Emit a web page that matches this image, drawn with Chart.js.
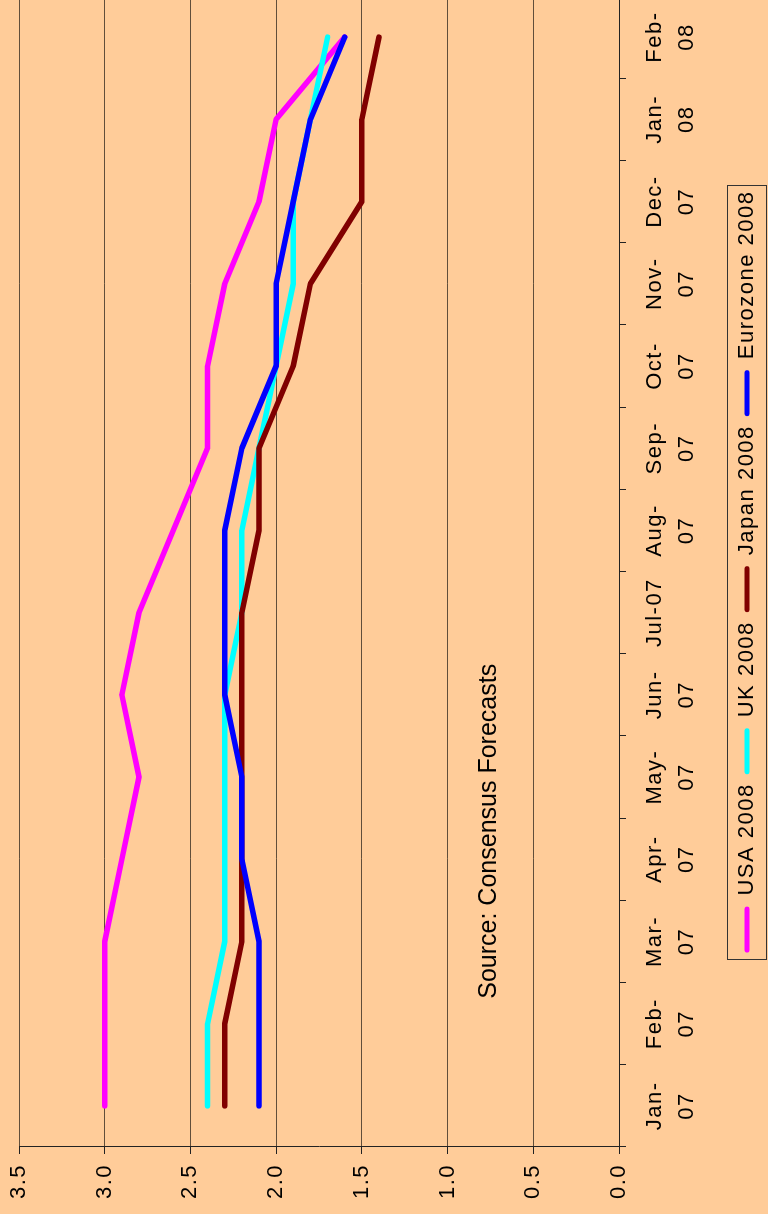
<!DOCTYPE html>
<html>
<head>
<meta charset="utf-8">
<script src="https://cdn.jsdelivr.net/npm/chart.js@4/dist/chart.umd.min.js"></script>
<style>
    html, body { margin: 0; padding: 0; background: #FFCC99; overflow: hidden; width: 768px; height: 1214px; }
    #wrap { position: absolute; left: 0; top: 1214px; width: 1218px; height: 768px; transform-origin: 0 0; transform: rotate(-90deg); }
</style>
</head>
<body>
<div id="wrap"><canvas id="forecastChart" width="1218" height="768"></canvas></div>
<script>
// Consensus GDP forecasts for 2008, by month of survey
const months = [['Jan-', '07'], ['Feb-', '07'], ['Mar-', '07'], ['Apr-', '07'], ['May-', '07'], ['Jun-', '07'],
    'Jul-07', ['Aug-', '07'], ['Sep-', '07'], ['Oct-', '07'], ['Nov-', '07'], ['Dec-', '07'], ['Jan-', '08'], ['Feb-', '08']];
const usa2008 = [3.0, 3.0, 3.0, 2.9, 2.8, 2.9, 2.8, 2.6, 2.4, 2.4, 2.3, 2.1, 2.0, 1.6];
const uk2008 = [2.4, 2.4, 2.3, 2.3, 2.3, 2.3, 2.2, 2.2, 2.1, 2.0, 1.9, 1.9, 1.8, 1.7];
const japan2008 = [2.3, 2.3, 2.2, 2.2, 2.2, 2.2, 2.2, 2.1, 2.1, 1.9, 1.8, 1.5, 1.5, 1.4];
const euro2008 = [2.1, 2.1, 2.1, 2.2, 2.2, 2.3, 2.3, 2.3, 2.2, 2.0, 2.0, 1.9, 1.8, 1.6];
const yTicks = [0, 0.5, 1.0, 1.5, 2.0, 2.5, 3.0, 3.5];

const sourceNote = 'Source: Consensus Forecasts';
const FONT = "'Liberation Sans', Arial, sans-serif";

function series(label, data, color, order) {
    return {
        label: label,
        data: data,
        borderColor: color,
        backgroundColor: color,
        borderWidth: 5.5,
        borderCapStyle: 'round',
        borderJoinStyle: 'round',
        pointRadius: 0,
        tension: 0,
        order: order
    };
}

// the old chart's text runs a little wide
const spacing = {
    id: 'spacing',
    beforeLayout: function(chart) { chart.ctx.letterSpacing = '1.5px'; },
    beforeDraw: function(chart) { chart.ctx.letterSpacing = '1.5px'; }
};

// note text inside the plot + border around the legend
const extras = {
    id: 'extras',
    afterDraw: function(chart) {
        const ctx = chart.ctx;
        const x = chart.scales.x;
        const y = chart.scales.y;
        ctx.save();
        ctx.letterSpacing = '0px';
        ctx.fillStyle = '#000';
        ctx.font = '25px ' + FONT;
        ctx.textAlign = 'center';
        ctx.textBaseline = 'middle';
        ctx.fillText(sourceNote, x.getPixelForValue(3.34), y.getPixelForValue(0.76));

        const lg = chart.legend;
        if (lg && lg.legendHitBoxes.length) {
            const boxes = lg.legendHitBoxes;
            const left = boxes[0].left - 7;
            const last = boxes[boxes.length - 1];
            const right = last.left + last.width + 5;
            ctx.strokeStyle = '#333';
            ctx.lineWidth = 1;
            ctx.strokeRect(Math.round(left) + 0.5, 727.5, Math.round(right - left), 39);
        }
        ctx.restore();
    }
};

new Chart(document.getElementById('forecastChart'), {
    type: 'line',
    data: {
        labels: months,
        datasets: [
            series('USA 2008', usa2008, '#FF00FF', 3),
            series('UK 2008', uk2008, '#00FFFF', 2),
            series('Japan 2008', japan2008, '#800000', 1),
            series('Eurozone 2008', euro2008, '#0000FF', 0)
        ]
    },
    options: {
        responsive: false,
        animation: false,
        devicePixelRatio: 1,
        layout: { padding: { top: 19, left: 0, right: 0, bottom: 0 } },
        plugins: {
            tooltip: { enabled: false },
            legend: {
                position: 'bottom',
                fullSize: false,
                labels: {
                    font: { family: FONT, size: 22 },
                    color: '#000',
                    boxWidth: 46,
                    boxHeight: 5,
                    padding: 9,
                    useBorderRadius: true,
                    borderRadius: 2.5,
                    sort: function(a, b) { return a.datasetIndex - b.datasetIndex; },
                    generateLabels: function(chart) {
                        const items = Chart.defaults.plugins.legend.labels.generateLabels(chart);
                        items.forEach(function(item) { item.lineWidth = 0; });
                        return items;
                    }
                }
            }
        },
        scales: {
            x: {
                type: 'category',
                offset: true,
                afterFit: function(scale) { scale.height = 108; },
                grid: {
                    offset: true,
                    drawOnChartArea: false,
                    drawTicks: true,
                    tickLength: 7,
                    color: '#222'
                },
                border: { color: '#222', width: 1 },
                ticks: {
                    autoSkip: false,
                    maxRotation: 0,
                    minRotation: 0,
                    padding: 13,
                    color: '#000',
                    font: { family: FONT, size: 22, lineHeight: 1.45 }
                }
            },
            y: {
                min: 0,
                max: 3.5,
                afterFit: function(scale) {
                    scale.width = 67;
                    scale.paddingTop = 0;
                    scale.paddingBottom = 0;
                },
                afterBuildTicks: function(scale) {
                    scale.ticks = yTicks.map(function(v) { return { value: v }; });
                },
                grid: {
                    color: 'rgba(0,0,0,0.62)',
                    tickLength: 7,
                    tickColor: '#222'
                },
                border: { color: '#222', width: 1 },
                ticks: {
                    padding: 10,
                    color: '#000',
                    font: { family: FONT, size: 22 },
                    callback: function(value) { return Number(value).toFixed(1); }
                }
            }
        }
    },
    plugins: [spacing, extras]
});
</script>
</body>
</html>
